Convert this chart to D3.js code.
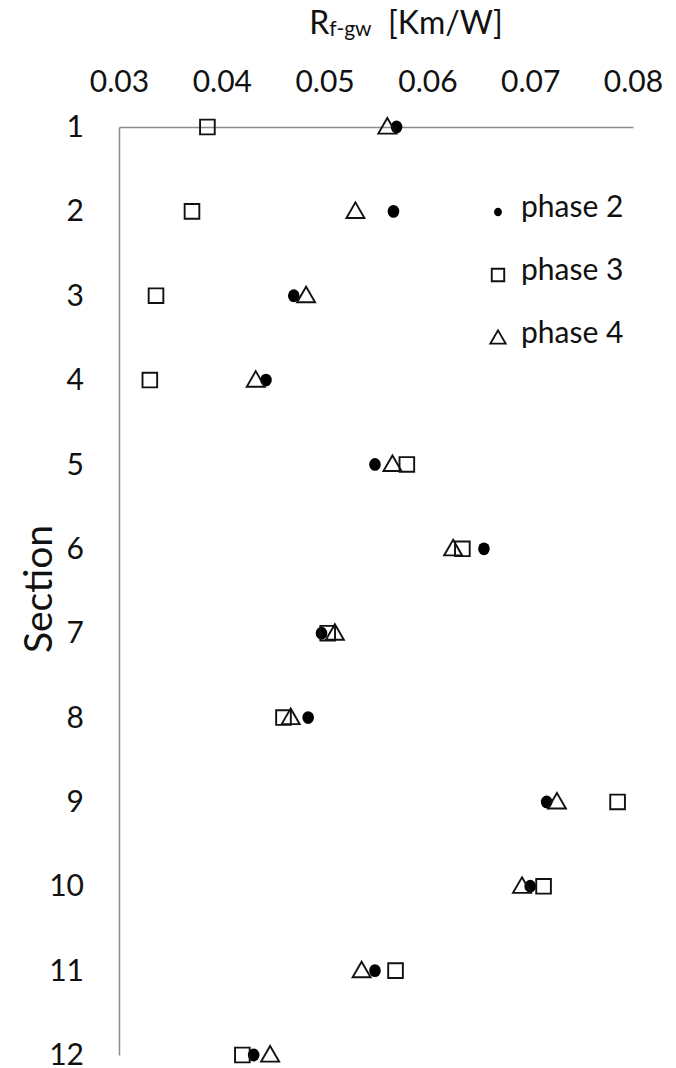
<!DOCTYPE html>
<html>
<head>
<meta charset="utf-8">
<script src="https://cdn.jsdelivr.net/npm/d3@7"></script>
<style>
  body { margin: 0; background: #fff; }
  svg { display: block; font-family: Lato, "Open Sans", sans-serif; }
</style>
</head>
<body>
<svg width="676" height="1068"></svg>
<script>
// Sections (rows) and Rf-gw values per phase
const sections = [1, 2, 3, 4, 5, 6, 7, 8, 9, 10, 11, 12];
const phase2 = [0.0570, 0.0567, 0.0470, 0.0443, 0.0549, 0.0655, 0.0497, 0.0484, 0.0716, 0.0700, 0.0549, 0.0431];
const phase3 = [0.0386, 0.0371, 0.0336, 0.0330, 0.0580, 0.0634, 0.0503, 0.0460, 0.0785, 0.0713, 0.0569, 0.0420];
const phase4 = [0.0561, 0.0530, 0.0482, 0.0433, 0.0566, 0.0625, 0.0510, 0.0467, 0.0726, 0.0692, 0.0536, 0.0447];
const xTicks = [0.03, 0.04, 0.05, 0.06, 0.07, 0.08];

const series = [
  { name: "phase 2", values: phase2, shape: "circle" },
  { name: "phase 3", values: phase3, shape: "square" },
  { name: "phase 4", values: phase4, shape: "triangle" }
];

const svg = d3.select("svg");

const x = d3.scaleLinear().domain([0.03, 0.08]).range([119, 633]);
const y = d3.scaleLinear().domain([1, 12]).range([127, 1055]);

const axisColor = "#8c8c8c";

// top axis
const gx = svg.append("g")
  .attr("transform", `translate(0,${y(1)})`)
  .call(d3.axisTop(x).tickValues(xTicks).tickFormat(d3.format(".2f")).tickSize(0).tickPadding(35));

// left axis
const gy = svg.append("g")
  .attr("transform", `translate(${x(0.03)},0)`)
  .call(d3.axisLeft(y).tickValues(sections).tickFormat(d3.format("d")).tickSize(0).tickPadding(35));

[gx, gy].forEach(g => {
  g.select(".domain").attr("stroke", axisColor).attr("stroke-width", 1.5);
  g.selectAll("text").attr("fill", "#111").style("font-size", "30px").style("font-family", "Lato, sans-serif");
});

// axis titles
const title = svg.append("text")
  .attr("x", 406)
  .attr("y", 34)
  .attr("text-anchor", "middle")
  .attr("fill", "#111")
  .style("font-size", "32px");
title.append("tspan").text("R");
title.append("tspan").attr("dy", 2).style("font-size", "21px").text("f-gw");
title.append("tspan").attr("dy", -2).text("\u00a0 [Km/W]");

svg.append("text")
  .attr("transform", "translate(52,589) rotate(-90)")
  .attr("text-anchor", "middle")
  .attr("fill", "#111")
  .style("font-size", "39px")
  .text("Section");

// marker drawing
function drawMarker(sel, shape, scale) {
  if (shape === "circle") {
    sel.append("ellipse").attr("rx", 5.8 * scale).attr("ry", 6.4 * scale).attr("fill", "#000");
  } else if (shape === "square") {
    sel.append("path")
      .attr("d", d3.symbol(d3.symbolSquare, 215 * scale * scale)())
      .attr("fill", "none").attr("stroke", "#111").attr("stroke-width", 1.9);
  } else {
    sel.append("path")
      .attr("d", d3.symbol(d3.symbolTriangle, 140 * scale * scale)())
      .attr("transform", `translate(0,${1.4 * scale})`)
      .attr("fill", "none").attr("stroke", "#111").attr("stroke-width", 1.9);
  }
}

series.forEach(s => {
  svg.append("g")
    .selectAll("g")
    .data(s.values)
    .join("g")
    .attr("transform", (d, i) => `translate(${x(d)},${y(sections[i])})`)
    .each(function() { drawMarker(d3.select(this), s.shape, 1); });
});

// legend
const legend = svg.append("g").attr("transform", "translate(498,212)");
series.forEach((s, i) => {
  const row = legend.append("g").attr("transform", `translate(0,${i * 63})`);
  drawMarker(row, s.shape, s.shape === "circle" ? 0.68 : 0.85);
  row.append("text")
    .attr("x", 23)
    .attr("y", 5)
    .attr("fill", "#111")
    .style("font-size", "30px")
    .text(s.name);
});
</script>
</body>
</html>
